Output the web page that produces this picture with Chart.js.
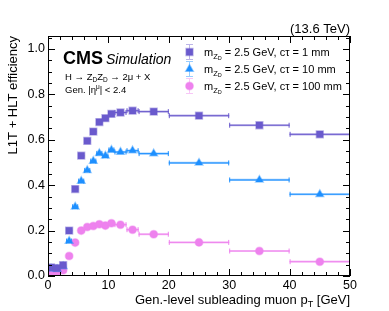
<!DOCTYPE html>
<html>
<head>
<meta charset="utf-8">
<script src="https://cdn.jsdelivr.net/npm/chart.js@4/dist/chart.umd.min.js"></script>
<style>
  html, body { margin: 0; padding: 0; background: #fff; }
  canvas { display: block; }
</style>
</head>
<body>
<canvas id="effChart" width="389" height="311"></canvas>
<script>
// bins in gen-level subleading muon pT [GeV]
const ptCenters = [0.5, 1.5, 2.5, 3.5, 4.5, 5.5, 6.5, 7.5, 8.5, 9.5, 10.5, 12, 14, 17.5, 25, 35, 45];
const binLow = [0, 1, 2, 3, 4, 5, 6, 7, 8, 9, 10, 11, 13, 15, 20, 30, 40];
const binHigh = [1, 2, 3, 4, 5, 6, 7, 8, 9, 10, 11, 13, 15, 20, 30, 40, 50];

// efficiencies
const eff1mm = [0.038, 0.035, 0.048, 0.20, 0.383, 0.53, 0.595, 0.636, 0.678, 0.695, 0.714, 0.72, 0.728, 0.724, 0.706, 0.664, 0.624];
const eff10mm = [0.032, 0.03, 0.042, 0.154, 0.305, 0.418, 0.465, 0.506, 0.54, 0.529, 0.555, 0.546, 0.552, 0.539, 0.498, 0.423, 0.36];
const eff100mm = [0.018, 0.018, 0.025, 0.088, 0.147, 0.2, 0.216, 0.22, 0.228, 0.222, 0.232, 0.226, 0.204, 0.184, 0.148, 0.11, 0.063];

const seriesLabels = ["1 mm", "10 mm", "100 mm"];
const xTickValues = [0, 10, 20, 30, 40, 50];
const yTickValues = [0, 0.2, 0.4, 0.6, 0.8, 1.0];

const FONT = "'Liberation Sans', Arial, sans-serif";

const series = [
  { data: eff1mm, color: "#6a5acd", halo: "rgba(106,90,205,0.45)", style: "rect", radius: 4.8 },
  { data: eff10mm, color: "#1e90ff", halo: "rgba(30,144,255,0.45)", style: "triangle", radius: 4.3 },
  { data: eff100mm, color: "#ee82ee", halo: "rgba(238,130,238,0.45)", style: "circle", radius: 3.8 },
];

// horizontal bin-width error bars, drawn under the markers
const errorBars = {
  id: "errorBars",
  beforeDatasetsDraw(chart) {
    const { ctx, scales: { x, y } } = chart;
    ctx.save();
    series.forEach((s) => {
      s.data.forEach((v, i) => {
        const py = y.getPixelForValue(v);
        const x0 = x.getPixelForValue(binLow[i]);
        const x1 = x.getPixelForValue(binHigh[i]);
        ctx.strokeStyle = s.halo;
        ctx.lineWidth = 2.2;
        ctx.beginPath();
        ctx.moveTo(x0, py);
        ctx.lineTo(x1, py);
        ctx.stroke();
        ctx.strokeStyle = s.color;
        ctx.lineWidth = 1;
        ctx.beginPath();
        ctx.moveTo(x0, py);
        ctx.lineTo(x1, py);
        ctx.moveTo(x0 + 0.5, py - 2.5);
        ctx.lineTo(x0 + 0.5, py + 2.5);
        ctx.moveTo(x1 - 0.5, py - 2.5);
        ctx.lineTo(x1 - 0.5, py + 2.5);
        ctx.stroke();
      });
    });
    ctx.restore();
  },
};

function drawMarker(ctx, s, px, py) {
  const r = s.radius;
  ctx.save();
  ctx.fillStyle = s.color;
  ctx.strokeStyle = s.halo;
  ctx.lineWidth = 1.5;
  ctx.beginPath();
  if (s.style === "rect") {
    const h = r * Math.SQRT1_2;
    ctx.rect(px - h, py - h, 2 * h, 2 * h);
  } else if (s.style === "triangle") {
    ctx.moveTo(px, py - r);
    ctx.lineTo(px + r * 0.87, py + r * 0.5);
    ctx.lineTo(px - r * 0.87, py + r * 0.5);
    ctx.closePath();
  } else {
    ctx.arc(px, py, r, 0, Math.PI * 2);
  }
  ctx.fill();
  ctx.stroke();
  ctx.restore();
}

// frame, inside ticks and all the CMS-style text
const decorations = {
  id: "decorations",
  afterDraw(chart) {
    const { ctx, chartArea: a, scales: { x, y } } = chart;
    ctx.save();
    ctx.strokeStyle = "#000";
    ctx.lineWidth = 1;
    ctx.strokeRect(a.left + 0.5, a.top + 0.5, a.right - a.left - 1, a.bottom - a.top - 1);

    ctx.beginPath();
    for (let v = 0; v <= 50; v += 2) {
      const px = Math.round(x.getPixelForValue(v)) + 0.5;
      const len = v % 10 === 0 ? 7 : 4;
      ctx.moveTo(px, a.bottom);
      ctx.lineTo(px, a.bottom - len);
      ctx.moveTo(px, a.top);
      ctx.lineTo(px, a.top + len);
    }
    for (let k = 0; k <= 21; k++) {
      const v = k * 0.05;
      const py = Math.round(y.getPixelForValue(v)) + 0.5;
      const len = k % 4 === 0 ? 7 : 4;
      ctx.moveTo(a.left, py);
      ctx.lineTo(a.left + len, py);
      ctx.moveTo(a.right, py);
      ctx.lineTo(a.right - len, py);
    }
    ctx.stroke();

    ctx.fillStyle = "#000";
    ctx.textBaseline = "alphabetic";

    // energy label
    ctx.font = "13px " + FONT;
    ctx.textAlign = "right";
    ctx.fillText("(13.6 TeV)", a.right, 33);

    // x title
    ctx.font = "13px " + FONT;
    ctx.textAlign = "right";
    const tail = " [GeV]";
    ctx.fillText(tail, a.right, 304);
    let cx = a.right - ctx.measureText(tail).width;
    ctx.font = "9px " + FONT;
    ctx.fillText("T", cx, 307);
    cx -= ctx.measureText("T").width;
    ctx.font = "13px " + FONT;
    ctx.fillText("Gen.-level subleading muon p", cx, 304);

    // y title
    ctx.save();
    ctx.translate(17, a.top);
    ctx.rotate(-Math.PI / 2);
    ctx.textAlign = "right";
    ctx.font = "13px " + FONT;
    ctx.fillText("L1T + HLT efficiency", 0, 0);
    ctx.restore();

    // CMS Simulation
    ctx.textAlign = "left";
    ctx.font = "bold 18px " + FONT;
    ctx.fillText("CMS", 63, 64);
    ctx.font = "italic 14px " + FONT;
    ctx.fillText("Simulation", 106, 64);

    let tx = 65;
    const put = (txt, size, dy, base) => {
      ctx.font = size + "px " + FONT;
      ctx.fillText(txt, tx, base + dy);
      tx += ctx.measureText(txt).width;
    };
    put("H \u2192 Z", 9.5, 0, 80);
    put("D", 6.5, 2, 80);
    put("Z", 9.5, 0, 80);
    put("D", 6.5, 2, 80);
    put(" \u2192 2\u03bc + X", 9.5, 0, 80);

    tx = 65;
    put("Gen. |\u03b7", 9.5, 0, 93);
    put("\u03bc", 6.5, -4, 93);
    put("| < 2.4", 9.5, 0, 93);

    // legend
    const rowsY = [52, 69, 86];
    series.forEach((s, i) => {
      const ly = rowsY[i];
      ctx.strokeStyle = s.halo;
      ctx.lineWidth = 1;
      ctx.beginPath();
      ctx.moveTo(189.5, ly - 7);
      ctx.lineTo(189.5, ly + 7);
      ctx.moveTo(186, ly - 7.5);
      ctx.lineTo(193, ly - 7.5);
      ctx.moveTo(186, ly + 7.5);
      ctx.lineTo(193, ly + 7.5);
      ctx.stroke();
      drawMarker(ctx, s, 189.5, ly);

      ctx.fillStyle = "#000";
      let lx = 204;
      const seg = (txt, size, dy) => {
        ctx.font = size + "px " + FONT;
        ctx.fillText(txt, lx, ly + 4 + dy);
        lx += ctx.measureText(txt).width;
      };
      seg("m", 11, 0);
      seg("Z", 7.5, 2.5);
      seg("D", 5.5, 4);
      seg(" = 2.5 GeV, c\u03c4 = " + seriesLabels[i], 11, 0);
    });
    ctx.restore();
  },
};

const ctx = document.getElementById("effChart").getContext("2d");
new Chart(ctx, {
  type: "scatter",
  data: {
    datasets: series.map((s, i) => ({
      label: "c\u03c4 = " + seriesLabels[i],
      data: s.data.map((v, j) => ({ x: ptCenters[j], y: v })),
      pointStyle: s.style,
      pointRadius: s.radius,
      pointBackgroundColor: s.color,
      pointBorderColor: s.halo,
      pointBorderWidth: 1.5,
      showLine: false,
    })),
  },
  options: {
    responsive: false,
    animation: false,
    layout: { padding: { top: 36, right: 39, left: 0, bottom: 0 } },
    plugins: {
      legend: { display: false },
      tooltip: { enabled: false },
    },
    scales: {
      x: {
        type: "linear",
        min: 0,
        max: 50,
        afterFit: (s) => { s.height = 35; },
        afterBuildTicks: (s) => { s.ticks = xTickValues.map((v) => ({ value: v })); },
        grid: { display: false, drawTicks: false },
        border: { display: false },
        ticks: {
          padding: 2,
          color: "#000",
          font: { family: FONT, size: 12.5 },
          maxRotation: 0,
          callback: (v) => String(v),
        },
      },
      y: {
        type: "linear",
        min: 0,
        max: 1.057,
        afterFit: (s) => { s.width = 48; },
        afterBuildTicks: (s) => { s.ticks = yTickValues.map((v) => ({ value: v })); },
        grid: { display: false, drawTicks: false },
        border: { display: false },
        ticks: {
          padding: 3,
          color: "#000",
          font: { family: FONT, size: 12.5 },
          callback: (v) => Number(v).toFixed(1),
        },
      },
    },
  },
  plugins: [errorBars, decorations],
});
</script>
</body>
</html>
